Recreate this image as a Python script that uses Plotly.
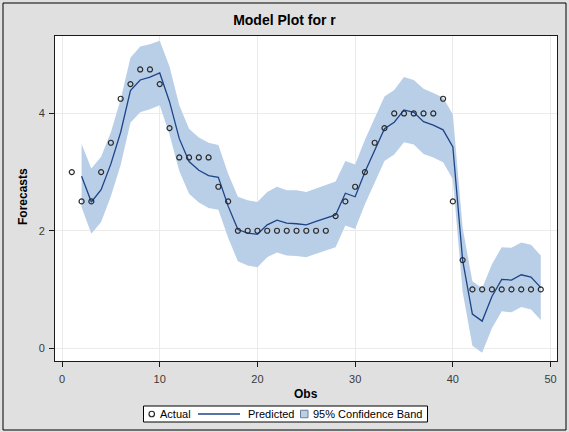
import plotly.graph_objects as go

# Observation index and observed series
obs = list(range(1, 50))
actual = [3.0, 2.5, 2.5, 3.0, 3.5, 4.25, 4.5, 4.75, 4.75, 4.5,
          3.75, 3.25, 3.25, 3.25, 3.25, 2.75, 2.5, 2.0, 2.0, 2.0,
          2.0, 2.0, 2.0, 2.0, 2.0, 2.0, 2.0, 2.25, 2.5, 2.75,
          3.0, 3.5, 3.75, 4.0, 4.0, 4.0, 4.0, 4.0, 4.25, 2.5,
          1.5, 1.0, 1.0, 1.0, 1.0, 1.0, 1.0, 1.0, 1.0]

# One-step forecasts (available from obs 2 onward)
pred_obs = list(range(2, 50))
predicted = [2.93, 2.49, 2.70, 3.14, 3.68, 4.39, 4.57, 4.62, 4.69,
             4.20, 3.57, 3.18, 3.03, 2.94, 2.91, 2.42, 2.02, 1.96, 1.94,
             2.10, 2.18, 2.13, 2.12, 2.10, 2.16, 2.22, 2.27, 2.64, 2.58,
             3.00, 3.38, 3.74, 3.85, 4.06, 4.02, 3.86, 3.80, 3.72, 3.43,
             1.50, 0.58, 0.46, 0.88, 1.17, 1.16, 1.25, 1.21, 1.03]

upper = [3.48, 3.06, 3.26, 3.68, 4.24, 4.95, 5.14, 5.18, 5.24,
         4.80, 4.14, 3.74, 3.59, 3.50, 3.46, 2.97, 2.58, 2.52, 2.49,
         2.66, 2.75, 2.69, 2.69, 2.66, 2.72, 2.78, 2.84, 3.19, 3.13,
         3.55, 3.92, 4.29, 4.40, 4.62, 4.57, 4.42, 4.35, 4.27, 3.98,
         2.05, 1.14, 1.02, 1.43, 1.72, 1.71, 1.80, 1.76, 1.58]

lower = [2.40, 1.95, 2.15, 2.59, 3.12, 3.84, 4.02, 4.07, 4.14,
         3.64, 3.02, 2.63, 2.48, 2.39, 2.36, 1.88, 1.48, 1.41, 1.38,
         1.55, 1.63, 1.58, 1.57, 1.55, 1.61, 1.67, 1.72, 2.09, 2.03,
         2.45, 2.82, 3.19, 3.30, 3.51, 3.47, 3.31, 3.25, 3.17, 2.88,
         0.96, 0.04, -0.08, 0.34, 0.63, 0.61, 0.70, 0.66, 0.48]

x_ticks = [0, 10, 20, 30, 40, 50]
y_ticks = [0, 2, 4]

FONT = "Liberation Sans, Arial, sans-serif"
BAND = "#b9cfe8"
LINE = "#1e4488"
MARK = "#2a2a2a"

fig = go.Figure()

# confidence band: lower edge, then upper edge filled down to it
fig.add_trace(go.Scatter(
    x=pred_obs, y=lower, mode="lines", line=dict(width=0, color=BAND),
    showlegend=False, hoverinfo="skip"))
fig.add_trace(go.Scatter(
    x=pred_obs, y=upper, mode="lines", line=dict(width=0, color=BAND),
    fill="tonexty", fillcolor=BAND, name="95% Confidence Band",
    showlegend=False))

fig.add_trace(go.Scatter(
    x=pred_obs, y=predicted, mode="lines", line=dict(width=1.3, color=LINE),
    name="Predicted", showlegend=False))
fig.add_trace(go.Scatter(
    x=obs, y=actual, mode="markers",
    marker=dict(symbol="circle-open", size=5, color=MARK,
                line=dict(width=1.2, color=MARK)),
    name="Actual", showlegend=False))

# plot area geometry (pixels)
W, H = 569, 432
L, R, T, B = 55, 12, 36, 71
pw, ph = W - L - R, H - T - B


def px_x(p):
    return (p - L) / pw


def px_y(p):
    return (H - B - p) / ph


axis_common = dict(
    showline=True, linecolor="#1a1a1a", linewidth=1, mirror=True,
    ticks="outside", ticklen=5, tickcolor="#1a1a1a", tickwidth=1,
    showgrid=True, gridcolor="#ebebeb", gridwidth=1, zeroline=False,
    tickfont=dict(family=FONT, size=11, color="#3a3a3a"),
)

fig.update_xaxes(range=[-0.72, 50.66], tickvals=x_ticks,
                 ticklabelstandoff=3, **axis_common)
fig.update_yaxes(range=[-0.22, 5.32], tickvals=y_ticks,
                 ticklabelstandoff=2, **axis_common)

# legend box drawn below the axis title
LEG_Y = 414
shapes = [
    dict(type="rect", xref="paper", yref="paper",
         x0=px_x(3), x1=px_x(566), y0=px_y(430), y1=px_y(3),
         line=dict(color="#000000", width=1), layer="below"),
    dict(type="rect", xref="paper", yref="paper",
         x0=px_x(143.5), x1=px_x(427.5), y0=px_y(422), y1=px_y(406),
         fillcolor="#ffffff", line=dict(color="#000000", width=1)),
    dict(type="circle", xref="paper", yref="paper",
         x0=px_x(149), x1=px_x(154.5), y0=px_y(LEG_Y + 2.75),
         y1=px_y(LEG_Y - 2.75), line=dict(color=MARK, width=1.2)),
    dict(type="line", xref="paper", yref="paper",
         x0=px_x(198), x1=px_x(240), y0=px_y(LEG_Y), y1=px_y(LEG_Y),
         line=dict(color=LINE, width=1.3)),
    dict(type="rect", xref="paper", yref="paper",
         x0=px_x(300.5), x1=px_x(308), y0=px_y(LEG_Y + 3.75),
         y1=px_y(LEG_Y - 3.75), fillcolor=BAND,
         line=dict(color="#6f7f96", width=1)),
]

legend_items = [("Actual", 158), ("Predicted", 246), ("95% Confidence Band", 311)]
annotations = [
    dict(text=txt, xref="paper", yref="paper", x=px_x(xp), y=px_y(LEG_Y),
         xanchor="left", yanchor="middle", showarrow=False,
         font=dict(family=FONT, size=11, color="#000"))
    for txt, xp in legend_items
]
annotations += [
    dict(text="<b>Obs</b>", xref="paper", yref="paper",
         x=px_x(306), y=px_y(394), xanchor="center", yanchor="middle",
         showarrow=False, font=dict(family=FONT, size=12, color="#000")),
    dict(text="<b>Forecasts</b>", xref="paper", yref="paper",
         x=px_x(23), y=px_y(197), xanchor="center", yanchor="middle",
         textangle=-90, showarrow=False,
         font=dict(family=FONT, size=12, color="#000")),
]

fig.update_layout(
    width=W, height=H,
    margin=dict(l=L, r=R, t=T, b=B),
    paper_bgcolor="#e0e0e0", plot_bgcolor="#ffffff",
    title=dict(text="<b>Model Plot for r</b>", x=0.5, xref="container",
               xanchor="center", y=1 - 20 / H, yref="container",
               yanchor="middle",
               font=dict(family=FONT, size=14, color="#000")),
    showlegend=False,
    shapes=shapes,
    annotations=annotations,
)

fig.write_html("out.html")
